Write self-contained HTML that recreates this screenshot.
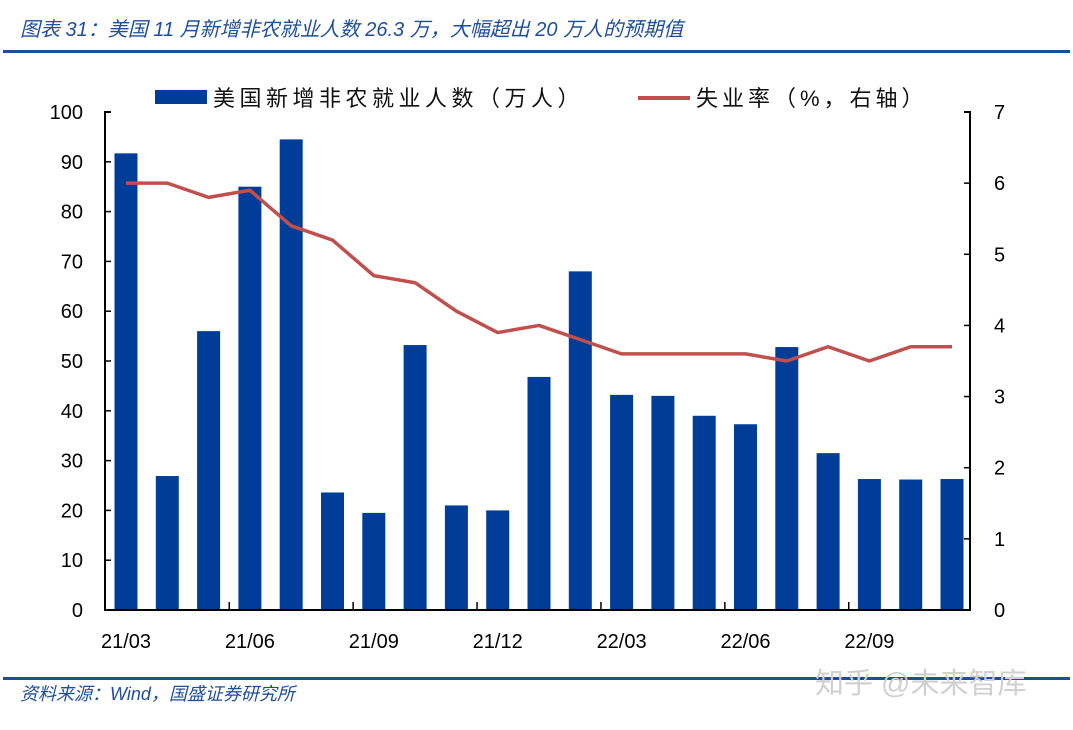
<!DOCTYPE html>
<html><head><meta charset="utf-8"><style>
body{margin:0;background:#fff;width:1073px;height:725px;overflow:hidden;font-family:"Liberation Sans","Noto Sans CJK SC",sans-serif;}
svg text{font-family:"Liberation Sans","Noto Sans CJK SC",sans-serif;}
</style></head><body>
<svg id="c" width="1073" height="725">
<text x="20" y="36" font-size="20" font-style="italic" fill="#1f4e9a">图表 31：美国 11 月新增非农就业人数 26.3 万，大幅超出 20 万人的预期值</text>
<rect x="3" y="50" width="1067" height="3" fill="#1c4f96"/>
<rect x="3" y="677" width="1067" height="3" fill="#1c4f96"/>
<text x="20" y="700" font-size="18" font-style="italic" fill="#1f4e9a">资料来源：Wind，国盛证券研究所</text>
<text x="815" y="693" font-size="29" fill="#d0d0d0">知乎 @未来智库</text>
<rect x="155" y="90" width="52" height="14" fill="#003d99"/>
<text x="213" y="106" font-size="22" letter-spacing="4.5" fill="#111">美国新增非农就业人数（万人）</text>
<rect x="638" y="96" width="52" height="4" fill="#c0504d"/>
<text x="696" y="106" font-size="22" letter-spacing="4" fill="#111">失业率（%，右轴）</text>
<g id="g"></g>
</svg>
<script>
const categories=["21/03","21/04","21/05","21/06","21/07","21/08","21/09","21/10","21/11","21/12","22/01","22/02","22/03","22/04","22/05","22/06","22/07","22/08","22/09","22/10","22/11"];
const payrolls=[91.7,26.9,56,85,94.5,23.6,19.5,53.2,21,20,46.8,68,43.2,43,39,37.3,52.8,31.5,26.3,26.2,26.3];
const unemployment=[6.0,6.0,5.8,5.9,5.4,5.2,4.7,4.6,4.2,3.9,4.0,3.8,3.6,3.6,3.6,3.6,3.5,3.7,3.5,3.7,3.7];
const leftTicks=[0,10,20,30,40,50,60,70,80,90,100];
const rightTicks=[0,1,2,3,4,5,6,7];
const X0=105,X1=970,Y0=610,Y1=112,NS="http://www.w3.org/2000/svg";
const g=document.getElementById('g');
const bw=41.3;
const xc=i=>126+bw*i;
const yl=v=>Y0-(v/100)*(Y0-Y1);
const yr=v=>Y0-(v/7)*(Y0-Y1);
function mk(t,a){const e=document.createElementNS(NS,t);for(const k in a)e.setAttribute(k,a[k]);g.appendChild(e);return e;}
payrolls.forEach((v,i)=>{const r=mk('rect',{x:xc(i)-11.5,y:yl(v),width:23,height:Y0-yl(v),fill:'#003d99'});

});
const p=mk('polyline',{points:unemployment.map((v,i)=>xc(i)+','+yr(v)).join(' '),fill:'none',stroke:'#c0504d','stroke-width':3.5,'stroke-linejoin':'round'});


const ax=mk('path',{d:`M${X0+6},${Y1}H${X0}V${Y0}H${X1}V${Y1}H${X1-6}`,fill:'none',stroke:'#000','stroke-width':2});


leftTicks.forEach(v=>{const t=mk('text',{x:X0-22,y:yl(v)+7,'font-size':20,'text-anchor':'end',fill:'#000'});t.textContent=v;


mk('line',{x1:X0,x2:X0+6,y1:yl(v),y2:yl(v),stroke:'#000','stroke-width':1.5});});
rightTicks.forEach(v=>{const t=mk('text',{x:X1+24,y:yr(v)+7,'font-size':20,fill:'#000'});t.textContent=v;


mk('line',{x1:X1-6,x2:X1,y1:yr(v),y2:yr(v),stroke:'#000','stroke-width':1.5});});
categories.forEach((c,i)=>{if(i%3===0){const t=mk('text',{x:xc(i),y:Y0+38,'font-size':20,'text-anchor':'middle',fill:'#000'});t.textContent=c;


if(i>0)mk('line',{x1:xc(i)-bw/2,x2:xc(i)-bw/2,y1:Y0,y2:Y0-8,stroke:'#000','stroke-width':1.5});}});
</script>
</body></html>
